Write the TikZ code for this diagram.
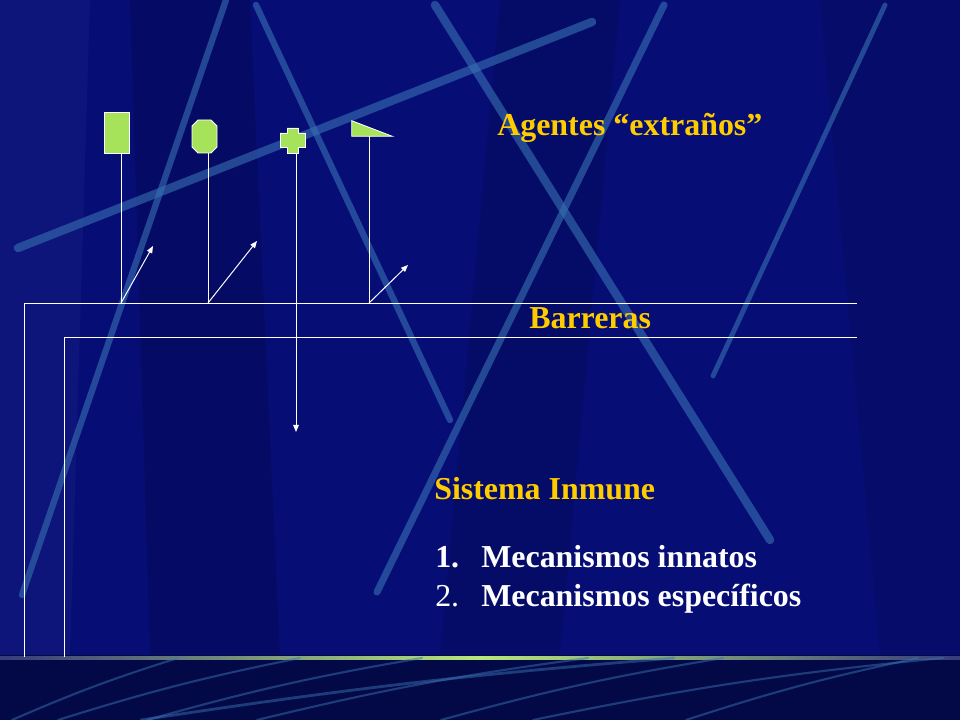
\documentclass[tikz,border=0pt]{standalone}
\usepackage{fontspec}
\setmainfont{Liberation Serif}
\usetikzlibrary{arrows.meta}

\definecolor{slideblue}{RGB}{6,14,118}
\definecolor{floorblue}{RGB}{3,8,70}
\definecolor{streakblue}{RGB}{56,112,178}
\definecolor{agentgreen}{RGB}{166,226,90}
\definecolor{titlegold}{RGB}{255,204,0}

\begin{document}
\begin{tikzpicture}[
		x=0.025cm, y=-0.025cm,
		wire/.style={white, line width=0.7pt},
		pointer/.style={wire, -{Triangle[length=5pt, width=4pt]}},
		agent/.style={fill=agentgreen, draw=white, line width=0.6pt, inner sep=0pt},
		holder/.style={inner sep=0pt},
		streak/.style={streakblue, line cap=round, opacity=0.6},
		title/.style={text=titlegold, font=\fontsize{22.7}{27}\selectfont\bfseries, anchor=base west, inner sep=0pt},
		entry/.style={text=white, font=\fontsize{22.7}{27}\selectfont, anchor=base west, inner sep=0pt}
	]
  \useasboundingbox (0,0) rectangle (960,720);
  % background
  \fill[slideblue] (0,0) rectangle (960,720);
  \fill[black, opacity=0.15] (130,0) -- (250,0) -- (280,655) -- (150,655) -- cycle;
  \fill[black, opacity=0.12] (500,0) -- (620,0) -- (560,655) -- (440,655) -- cycle;
  \fill[white, opacity=0.03] (0,0) -- (90,0) -- (70,655) -- (0,655) -- cycle;
  \fill[black, opacity=0.1] (820,0) -- (960,0) -- (960,655) -- (880,655) -- cycle;
  \draw[streak, line width=6pt] (18,248) -- (592,22);
  \draw[streak, line width=4.5pt] (226,0) -- (22,595);
  \draw[streak, line width=4.5pt] (256,5) -- (450,420);
  \draw[streak, line width=6pt] (435,5) -- (770,540);
  \draw[streak, line width=5pt] (664,5) -- (377,592);
  \draw[streak, line width=3.5pt] (885,5) -- (713,376);
  \fill[floorblue] (0,655) rectangle (960,720);
  \shade[left color=slideblue!60!gray, right color=slideblue!60!gray, middle color=agentgreen!80!white] (0,656) rectangle (960,659);
  \foreach \a/\b in {12/178, 58/300, 147/422, 257/588, 441/723, 533/943, 686/918}
    \draw[streak, line width=1.5pt, opacity=0.5] (\a,720) to[bend left=3] (\b,658);
  \draw[streak, line width=2pt, opacity=0.5] (141,720) to[bend left=2] (674,658);

  % agents
  \node (rect) [agent, rectangle, minimum width=0.625cm, minimum height=1.025cm] at (116.5,132.5) {};
  \node (octo) [holder, minimum width=0.625cm, minimum height=0.825cm] at (204.5,136.5) {};
  \node (plus) [holder, minimum size=0.625cm] at (292.5,140.5) {};
  \node (wedge) [holder, minimum width=1cm, minimum height=0.375cm] at (372,128.5) {};
  \draw[agent, shift={(octo.center)}] (-6.5,-16.5) -- (6.5,-16.5) -- (12.5,-10.5) -- (12.5,10.5) -- (6.5,16.5)
    -- (-6.5,16.5) -- (-12.5,10.5) -- (-12.5,-10.5) -- cycle;
  \draw[agent, shift={(plus.center)}] (-5.5,-12.5) -- (5.5,-12.5) -- (5.5,-7.5) -- (12.5,-7.5) -- (12.5,6.5)
    -- (5.5,6.5) -- (5.5,12.5) -- (-5.5,12.5) -- (-5.5,6.5) -- (-12.5,6.5) -- (-12.5,-7.5) -- (-5.5,-7.5) -- cycle;
  \draw[agent] (wedge.north west) -- (wedge.south west) -- (wedge.south east) -- cycle;

  % barriers
  \coordinate (b1) at (121,303);
  \coordinate (b2) at (208,303);
  \coordinate (b3) at (296,432);
  \coordinate (b4) at (369,303);
  \coordinate (outerfoot) at (24,657);
  \coordinate (outerend) at (857,303);
  \coordinate (innerfoot) at (64,657);
  \coordinate (innerend) at (857,337);
  \draw[wire] (outerfoot) |- (outerend);
  \draw[wire] (innerfoot) |- (innerend);

  \draw[wire] (b1) -- (b1 |- rect.south);
  \draw[wire] (b2) -- (b2 |- octo.south);
  \draw[wire] (b4) -- (b4 |- wedge.south);
  \draw[pointer] (b3 |- plus.south) -- (b3);
  \coordinate (r1) at (153,246);
  \coordinate (r2) at (257,241);
  \coordinate (r4) at (408,265);
  \draw[pointer] (b1) -- (r1);
  \draw[pointer] (b2) -- (r2);
  \draw[pointer] (b4) -- (r4);

  % texts
  \node (agentes) [title] at (497,136) {Agentes “extraños”};
  \node (barreras) [title] at (529,329) {Barreras};
  \node (sistema) [title] at (434,500) {Sistema Inmune};
  \node (num1) [entry, font=\fontsize{22.7}{27}\selectfont\bfseries] at (435,567) {1.};
  \node (item1) [entry, font=\fontsize{22.7}{27}\selectfont\bfseries] at (481,567) {Mecanismos innatos};
  \node (num2) [entry] at (435,606) {2.};
  \node (item2) [entry, font=\fontsize{22.7}{27}\selectfont\bfseries] at (481,606) {Mecanismos específicos};
\end{tikzpicture}
\end{document}
